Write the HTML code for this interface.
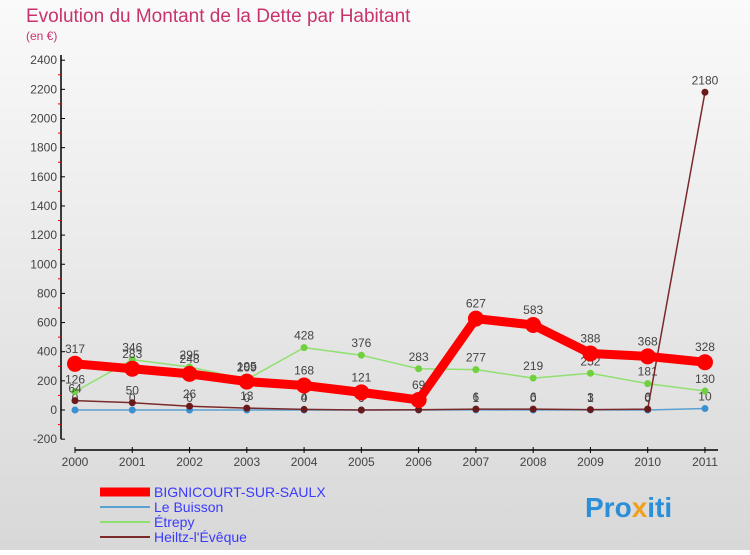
<!DOCTYPE html>
<html><head><meta charset="utf-8"><style>
body{margin:0;width:750px;height:550px;overflow:hidden;font-family:"Liberation Sans",sans-serif}
</style></head><body>
<svg id="c" width="750" height="550" xmlns="http://www.w3.org/2000/svg">
<defs><linearGradient id="bg" x1="0" y1="0" x2="0" y2="1"><stop offset="0" stop-color="#fafafa"/><stop offset="1" stop-color="#d8d8d8"/></linearGradient></defs>
<rect width="750" height="550" fill="url(#bg)"/>
<text x="26" y="22" font-size="19" fill="#c8336e">Evolution du Montant de la Dette par Habitant</text>
<text x="26" y="40" font-size="12" fill="#c8336e">(en €)</text>
<g id="plot"></g>
<text x="585" y="517" font-size="28" font-weight="bold" fill="#2a8fd8">Pro<tspan fill="#f0a020">x</tspan>iti</text>
</svg>
<script>
const years=["2000","2001","2002","2003","2004","2005","2006","2007","2008","2009","2010","2011"];
const yTicks=[-200,0,200,400,600,800,1000,1200,1400,1600,1800,2000,2200,2400];
const bignicourt=[317,283,248,195,168,121,69,627,583,388,368,328];
const leBuisson=[0,0,0,0,0,0,0,1,0,1,0,10];
const etrepy=[126,346,295,209,428,376,283,277,219,252,181,130];
const heiltz=[64,50,26,13,4,0,2,6,6,3,6,2180];
const names=["BIGNICOURT-SUR-SAULX","Le Buisson","Étrepy","Heiltz-l'Évêque"];
const NS="http://www.w3.org/2000/svg";
const g=document.getElementById('plot');
const X=i=>75+i*57.27;
const Y=v=>410-v*(29.15/200);
function el(t,a,p){const e=document.createElementNS(NS,t);for(const k in a)e.setAttribute(k,a[k]);(p||g).appendChild(e);return e;}
const ya=el('line',{x1:61,y1:55,x2:61,y2:Y(-200),stroke:'#000','stroke-width':1.5});


const xa=el('line',{x1:X(0),y1:450,x2:718,y2:450,stroke:'#000','stroke-width':1.5});


yTicks.forEach((t,i)=>{
  const y=Y(t);
  const tk=el('line',{x1:61,y1:y,x2:65,y2:y,stroke:'#000'});
  
  
  if(i<yTicks.length-1){const m=el('line',{x1:58,y1:(y+Y(yTicks[i+1]))/2,x2:61,y2:(y+Y(yTicks[i+1]))/2,stroke:'#e00'});
  
  }
  const tx=el('text',{x:57,y:y+4,'font-size':12,'text-anchor':'end',fill:'#444'});tx.textContent=t;
  
  
});
years.forEach((yr,i)=>{
  const tk=el('line',{x1:X(i),y1:447,x2:X(i),y2:453,stroke:'#000'});
  
  
  const tx=el('text',{x:X(i),y:466,'font-size':12,'text-anchor':'middle',fill:'#444'});tx.textContent=yr;
  
  
});
const series=[[leBuisson,'#5aa0d0',1.5,3.5],[etrepy,'#90e070',1.5,3.5],[heiltz,'#7a2a2a',1.5,3.5],[bignicourt,'#ff0000',9,8]];
const dotC=['#3a90d0','#70d040','#6a1a1a','#ff0000'];
series.forEach((s,k)=>{
  const [d,c,w,r]=s;
  const p=el('polyline',{points:d.map((v,i)=>X(i)+','+Y(v)).join(' '),fill:'none',stroke:c,'stroke-width':w,'stroke-linejoin':'round'});
  
  
  d.forEach((v,i)=>{
    const ci=el('circle',{cx:X(i),cy:Y(v),r:r,fill:dotC[k]});
    
    
    const t=el('text',{x:X(i),y:Y(v)-(k==3?11:8),'font-size':12,'text-anchor':'middle',fill:'#444'});t.textContent=v;
    
    
  });
});
const lc=['#ff0000','#5aa0d0','#90e070','#7a2a2a'],lw=[9,2,2,2];
names.forEach((n,i)=>{
  const y=492+i*15;
  const l=el('line',{x1:100,y1:y,x2:150,y2:y,stroke:lc[i],'stroke-width':lw[i]});
  
  
  const t=el('text',{x:154,y:y+5,'font-size':14,fill:'#3a3aff'});t.textContent=n;
  
  
});
</script>
</body></html>
